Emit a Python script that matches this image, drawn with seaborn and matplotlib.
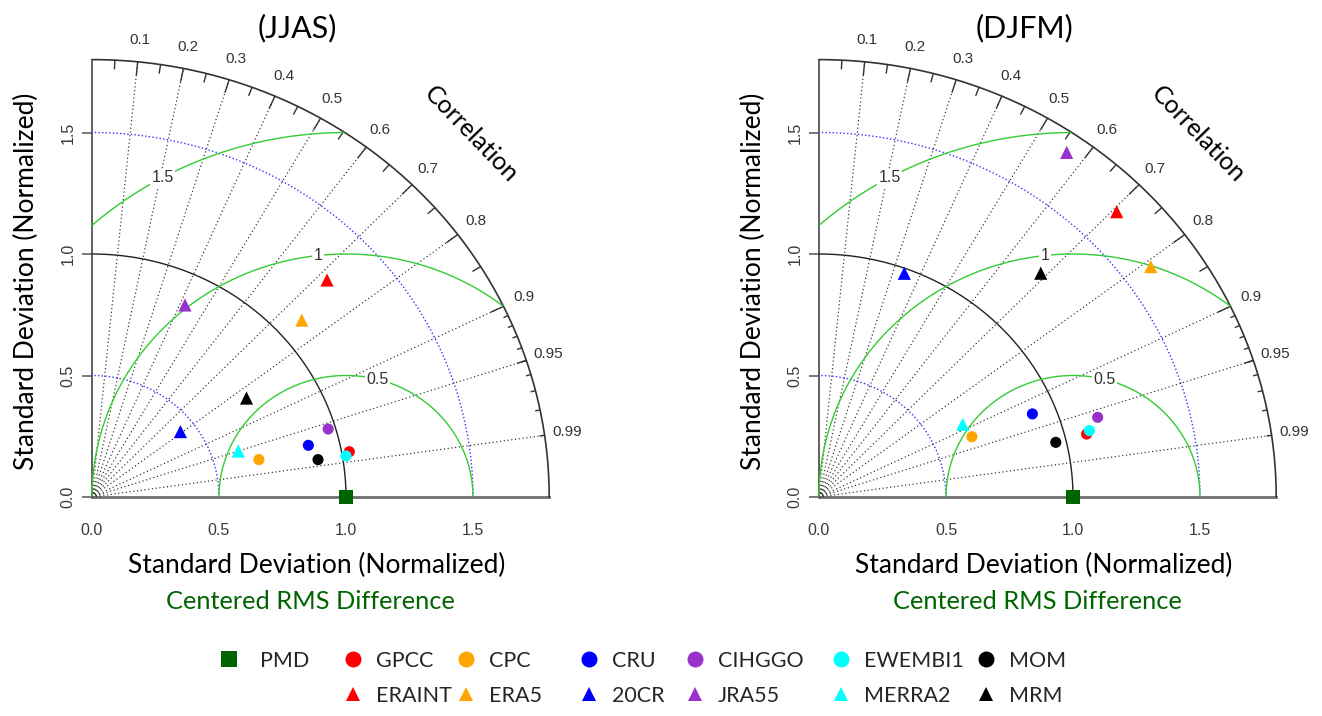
import numpy as np
import pandas as pd
import matplotlib
matplotlib.use("Agg")
import matplotlib.pyplot as plt
import seaborn as sns
from matplotlib.lines import Line2D

sns.set_theme(style="white")
plt.rcParams['font.family'] = ['Lato', 'DejaVu Sans']

# ---------------- data ----------------
names = ['PMD', 'GPCC', 'CPC', 'CRU', 'CIHGGO', 'EWEMBI1', 'MOM',
         'ERAINT', 'ERA5', '20CR', 'JRA55', 'MERRA2', 'MRM']
kinds = ['square', 'circle', 'circle', 'circle', 'circle', 'circle', 'circle',
         'triangle', 'triangle', 'triangle', 'triangle', 'triangle', 'triangle']
colors = ['#006400', '#FF0000', '#FFA500', '#0000FF', '#9932CC', '#00FFFF', '#000000',
          '#FF0000', '#FFA500', '#0000FF', '#9932CC', '#00FFFF', '#000000']

# normalized standard deviation and correlation
jjas_sd = [1.000, 1.030, 0.675, 0.878, 0.971, 1.014, 0.903,
           1.286, 1.101, 0.440, 0.871, 0.606, 0.732]
jjas_cor = [1.000, 0.9835, 0.9736, 0.9702, 0.9576, 0.9860, 0.9854,
            0.7195, 0.7502, 0.7911, 0.4204, 0.9502, 0.8310]
djfm_sd = [1.000, 1.085, 0.651, 0.907, 1.145, 1.099, 0.959,
           1.659, 1.614, 0.980, 1.721, 0.640, 1.269]
djfm_cor = [1.000, 0.9711, 0.9246, 0.9262, 0.9581, 0.9686, 0.9721,
            0.7065, 0.8093, 0.3427, 0.5666, 0.8842, 0.6880]

panel_titles = ['(JJAS)', '(DJFM)']
cor_major = [0.1, 0.2, 0.3, 0.4, 0.5, 0.6, 0.7, 0.8, 0.9, 0.95, 0.99]
cor_labels = ['0.1', '0.2', '0.3', '0.4', '0.5', '0.6', '0.7', '0.8', '0.9', '0.95', '0.99']
sd_ticks = [0.0, 0.5, 1.0, 1.5]
sd_ticklabels = ['0.0', '0.5', '1.0', '1.5']
rms_levels = [0.5, 1.0, 1.5]
rms_labels = ['0.5', '1', '1.5']
rms_label_angles = [75.8, 96.3, 118.8]
max_sd = 1.8

# ---------------- layout ----------------
W, H = 1322, 716
fig = plt.figure(figsize=(W / 100, H / 100), dpi=100)
XL = (-0.2, 2.1)
YL = (-0.1, 2.0)
SX, SY = 254.0, 243.0
origins = [92, 819]
OY = 497

palette = dict(zip(names, colors))
marker_map = {'square': 's', 'circle': 'o', 'triangle': '^'}
size_map = {'square': 100, 'circle': 64, 'triangle': 90}

tick_font = ['Liberation Sans', 'DejaVu Sans']


def draw_panel(ox, title, sd, cor):
    left = ox + XL[0] * SX
    right = ox + XL[1] * SX
    bottom = OY - YL[0] * SY
    top = OY - YL[1] * SY
    ax = fig.add_axes([left / W, 1 - bottom / H, (right - left) / W, (bottom - top) / H])
    ax.set_xlim(*XL)
    ax.set_ylim(*YL)
    ax.set_facecolor('none')

    # spines
    for s in ['top', 'right']:
        ax.spines[s].set_visible(False)
    ax.spines['left'].set_position(('data', 0))
    ax.spines['bottom'].set_position(('data', 0))
    ax.spines['left'].set_bounds(0, max_sd)
    ax.spines['bottom'].set_bounds(0, max_sd)
    ax.spines['left'].set_color('#555555')
    ax.spines['left'].set_linewidth(1.3)
    ax.spines['bottom'].set_color('#6e6e6e')
    ax.spines['bottom'].set_linewidth(2.0)
    ax.spines['left'].set_zorder(1)
    ax.spines['bottom'].set_zorder(1)

    ax.set_xticks(sd_ticks)
    ax.set_xticklabels(sd_ticklabels)
    ax.set_yticks(sd_ticks)
    ax.set_yticklabels(sd_ticklabels)
    ax.tick_params(axis='x', length=0, pad=19, labelsize=11.5, labelcolor='#3a3a3a')
    ax.tick_params(axis='y', direction='out', length=7, width=1.1, color='#555555',
                   pad=5, labelsize=11.5, labelcolor='#3a3a3a', left=True)
    for lbl in ax.get_xticklabels() + ax.get_yticklabels():
        lbl.set_family(tick_font)
    for lbl in ax.get_yticklabels():
        lbl.set_rotation(90)
        lbl.set_va('center')
        lbl.set_ha('right')

    t = np.linspace(0, np.pi / 2, 400)
    # outer arc and reference arc
    ax.plot(max_sd * np.cos(t), max_sd * np.sin(t), color='#333333', lw=1.2, zorder=2)
    ax.plot(np.cos(t), np.sin(t), color='#222222', lw=1.0, zorder=2)
    # sd dotted blue arcs
    for r in [0.5, 1.5]:
        ax.plot(r * np.cos(t), r * np.sin(t), color='#3333ff', lw=1.0,
                linestyle=(0, (1, 1.6)), zorder=2)
    # correlation radial lines
    for c in cor_major:
        a = np.arccos(c)
        ax.plot([0, max_sd * np.cos(a)], [0, max_sd * np.sin(a)], color='#2a2a2a',
                lw=0.85, linestyle=(0, (1, 2.2)), zorder=2)
    # ticks on outer arc
    big = np.arccos(np.arange(0.1, 0.91, 0.1))
    med = np.arccos(np.arange(0.05, 0.96, 0.1))
    sml = np.arccos(np.arange(0.91, 0.995, 0.01))
    for angs, f in [(big, 0.97), (med, 0.98), (sml, 0.99)]:
        for a in angs:
            ax.plot([max_sd * np.cos(a), f * max_sd * np.cos(a)],
                    [max_sd * np.sin(a), f * max_sd * np.sin(a)],
                    color='#333333', lw=1.0, zorder=2)
    # correlation labels
    for c, lab in zip(cor_major, cor_labels):
        a = np.arccos(c)
        ax.text(1.05 * max_sd * np.cos(a), 1.05 * max_sd * np.sin(a), lab,
                ha='center', va='center', fontsize=11, color='#333333',
                family=tick_font, zorder=3)
    ax.text(2.11 * np.cos(np.pi / 4), 2.11 * np.sin(np.pi / 4), 'Correlation',
            rotation=-46, ha='center', va='center', fontsize=18, color='black')

    # centered RMS arcs
    tt = np.linspace(0, np.pi, 800)
    for g, lab, ang in zip(rms_levels, rms_labels, rms_label_angles):
        xc = 1 + g * np.cos(tt)
        yc = g * np.sin(tt)
        m = (xc >= 0) & (xc ** 2 + yc ** 2 <= max_sd ** 2)
        ax.plot(xc[m], yc[m], color='#33cc33', lw=1.0, zorder=2)
        aa = np.deg2rad(ang)
        ax.text(1 + g * np.cos(aa), g * np.sin(aa), lab, ha='center', va='center',
                fontsize=11.5, color='#333333', family=tick_font, zorder=3,
                bbox=dict(facecolor='white', edgecolor='none', pad=1.0))

    # points
    sd_a = np.array(sd)
    cor_a = np.array(cor)
    df = pd.DataFrame({'name': names, 'kind': kinds,
                       'x': sd_a * cor_a,
                       'y': sd_a * np.sin(np.arccos(np.clip(cor_a, -1, 1)))})
    sns.scatterplot(data=df, x='x', y='y', hue='name', palette=palette,
                    style='kind', markers=marker_map, size='kind', sizes=size_map,
                    edgecolor='none', linewidth=0, legend=False, ax=ax,
                    clip_on=False, zorder=5)
    ax.set_xlabel('')
    ax.set_ylabel('')

    # labels
    ax.text(0.81, 1.93, title, ha='center', va='center', fontsize=22, color='black')
    ax.text(0.885, -0.28, 'Standard Deviation (Normalized)', ha='center', va='center',
            fontsize=19, color='black')
    ax.text(0.86, -0.43, 'Centered RMS Difference', ha='center', va='center',
            fontsize=18.3, color='#006400')
    ax.text(-0.258, 0.889, 'Standard Deviation (Normalized)', ha='center', va='center',
            rotation=90, fontsize=19, color='black')
    return ax


draw_panel(origins[0], panel_titles[0], jjas_sd, jjas_cor)
draw_panel(origins[1], panel_titles[1], djfm_sd, djfm_cor)

# ---------------- legend ----------------
legend_cols = [['PMD'], ['GPCC', 'ERAINT'], ['CPC', 'ERA5'], ['CRU', '20CR'],
               ['CIHGGO', 'JRA55'], ['EWEMBI1', 'MERRA2'], ['MOM', 'MRM']]
col_x = [229, 353, 466, 589, 695, 841, 986]
leg_marker_size = {'square': 11.5, 'circle': 11.5, 'triangle': 10.5}
fs = 15.5
for col, mx in zip(legend_cols, col_x):
    handles = []
    for n in col:
        i = names.index(n)
        k = kinds[i]
        handles.append(Line2D([], [], linestyle='none', marker=marker_map[k],
                              markersize=leg_marker_size[k], color=colors[i],
                              markeredgewidth=0, label=n))
    hl = 1.0
    em = fs * 100 / 72
    pad = (31 - em / 2) / em if col[0] == 'PMD' else (23 - em / 2) / em
    x0 = mx - hl * em / 2
    fig.legend(handles=handles, loc='upper left',
               bbox_to_anchor=(x0 / W, 1 - 651 / H), frameon=False,
               fontsize=fs, handlelength=hl, handletextpad=pad,
               borderpad=0, borderaxespad=0, labelspacing=0.68)

fig.savefig('out.png', dpi=100)
